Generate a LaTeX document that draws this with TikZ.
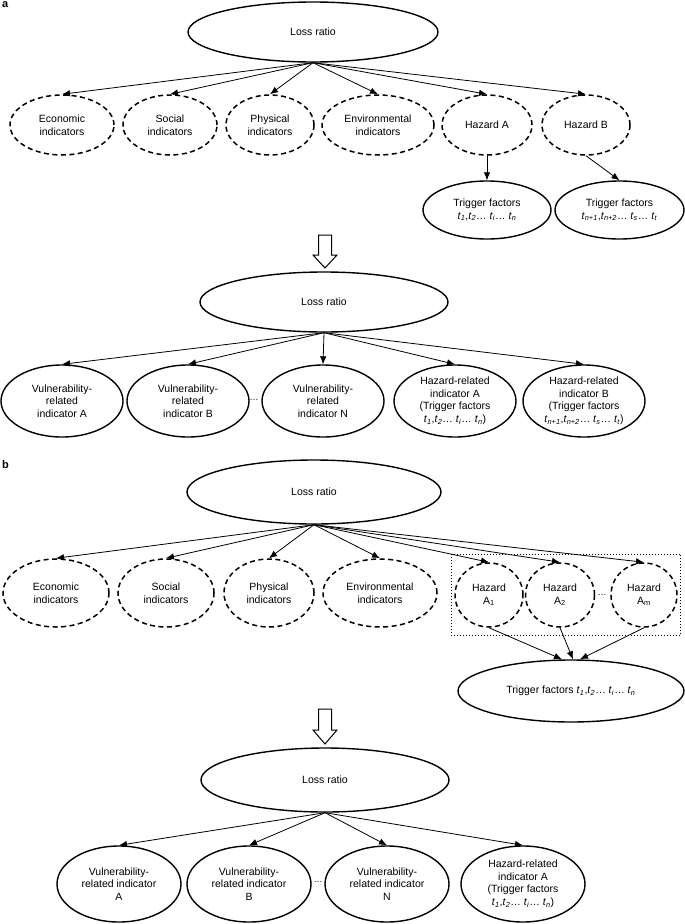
\documentclass[tikz,border=0pt]{standalone}
\usepackage{fontspec}
\setmainfont{Liberation Sans}
\usetikzlibrary{shapes.geometric,arrows.meta,calc,fit}
\newcommand{\tv}[1]{\textit{t}\textsubscript{\textit{#1}}}
\begin{document}
\begin{tikzpicture}[x=1pt,y=-1pt,
  el/.style={ellipse, draw, line width=1.4pt, inner sep=0pt, align=center,
    font=\fontsize{10.5}{12.5}\selectfont},
  del/.style={el, dash pattern=on 5pt off 3.5pt, line width=1.5pt},
  sz/.style 2 args={minimum width=#1pt, minimum height=#2pt},
  arr/.style={-{Latex[length=8pt,width=6.5pt]}, line width=0.8pt},
  lab/.style={font=\fontsize{11}{13}\selectfont\bfseries, anchor=north west, inner sep=0pt},
  dots/.style={font=\fontsize{9}{10}\selectfont, inner sep=0pt},
  hollow/.style={draw, line width=1pt, fill=white}]
\useasboundingbox (0,0) rectangle (685,924);

% ---------------- panel a ----------------
\node[lab] (la) at (2,1.5) {a};
\node[el, sz={250}{60}] (lr1) at (313,32) {Loss ratio};

\node[del, sz={104}{60}] (econ1) at (62,125) {Economic\\indicators};
\node[del, sz={94}{60}] (soc1) at (170,125) {Social\\indicators};
\node[del, sz={88}{60}] (phy1) at (270,125) {Physical\\indicators};
\node[del, sz={112}{60}] (env1) at (378,125) {Environmental\\indicators};
\node[del, sz={90}{60}] (haza) at (487,125) {Hazard A};
\node[del, sz={88}{60}] (hazb) at (586,125) {Hazard B};

\node[el, sz={128}{58}] (tf1) at (487,210) {Trigger factors\\\tv{1},\tv{2}\dots{} \tv{i}\dots{} \tv{n}};
\node[el, sz={129}{58}] (tf2) at (619.5,210) {Trigger factors\\\tv{n+1},\tv{n+2}\dots{} \tv{s}\dots{} \tv{t}};

\foreach \n in {econ1,soc1,phy1,env1,haza,hazb} \draw[arr] (lr1.south) -- (\n.north);
\draw[arr] (haza.south) -- (tf1.north);
\draw[arr] (hazb.south) -- (tf2.north);

% hollow arrow a
\coordinate (ha) at (325,235);
\draw[hollow] ($(ha)+(-6.5,0)$) -- ($(ha)+(6.5,0)$) -- ($(ha)+(6.5,20)$) -- ($(ha)+(12,20)$)
  -- ($(ha)+(0,33)$) -- ($(ha)+(-12,20)$) -- ($(ha)+(-6.5,20)$) -- cycle;

\node[el, sz={248}{60}] (lr2) at (324,302) {Loss ratio};

\node[el, sz={122}{72}] (va) at (62,401) {Vulnerability-\\related\\indicator A};
\node[el, sz={122}{72}] (vb) at (188,401) {Vulnerability-\\related\\indicator B};
\node[dots] (d1) at (254,400) {\dots};
\node[el, sz={122}{72}] (vn) at (323,401) {Vulnerability-\\related\\indicator N};
\node[el, sz={122}{72}] (hra) at (455,401) {Hazard-related\\indicator A\\(Trigger factors\\\tv{1},\tv{2}\dots{} \tv{i}\dots{} \tv{n})};
\node[el, sz={122}{72}] (hrb) at (584,401) {Hazard-related\\indicator B\\(Trigger factors\\\tv{n+1},\tv{n+2}\dots{} \tv{s}\dots{} \tv{t})};

\foreach \n in {va,vb,vn,hra,hrb} \draw[arr] (lr2.south) -- (\n.north);

% ---------------- panel b ----------------
\node[lab] (lb) at (2,460) {b};
\node[el, sz={254}{64}] (lr3) at (314,492) {Loss ratio};

\node[del, sz={106}{68}] (econ2) at (56,593) {Economic\\indicators};
\node[del, sz={96}{68}] (soc2) at (166,593) {Social\\indicators};
\node[del, sz={90}{68}] (phy2) at (269,593) {Physical\\indicators};
\node[del, sz={114}{68}] (env2) at (380,593) {Environmental\\indicators};
\node[del, sz={68}{64}] (a1) at (489,595) {Hazard\\A\textsubscript{1}};
\node[del, sz={69}{64}] (a2) at (560,595) {Hazard\\A\textsubscript{2}};
\node[dots] (d2) at (602,595) {\dots};
\node[del, sz={66}{64}] (am) at (644,595) {Hazard\\A\textsubscript{m}};

\node[draw, dotted, line width=1pt, inner xsep=3pt, inner ysep=8pt, fit=(a1)(am)] (box) {};

\node[el, sz={226}{62}] (tf3) at (571,691) {Trigger factors \tv{1},\tv{2}\dots{} \tv{i}\dots{} \tv{n}};

\foreach \n in {econ2,soc2,phy2,env2,a1,a2,am} \draw[arr] (lr3.south) -- (\n.north);
\draw[arr] (a1.south) -- ([xshift=-9pt]tf3.north);
\draw[arr] (a2.south) -- ([xshift=2pt]tf3.north);
\draw[arr] (am.south) -- ([xshift=9pt]tf3.north);

% hollow arrow b
\coordinate (hb) at (325,709);
\draw[hollow] ($(hb)+(-6.5,0)$) -- ($(hb)+(6.5,0)$) -- ($(hb)+(6.5,21)$) -- ($(hb)+(12,21)$)
  -- ($(hb)+(0,35)$) -- ($(hb)+(-12,21)$) -- ($(hb)+(-6.5,21)$) -- cycle;

\node[el, sz={248}{64}] (lr4) at (325,780) {Loss ratio};

\node[el, sz={124}{76}] (vb1) at (119,884) {Vulnerability-\\related indicator\\A};
\node[el, sz={124}{76}] (vb2) at (249,884) {Vulnerability-\\related indicator\\B};
\node[dots] (d3) at (318,882) {\dots};
\node[el, sz={124}{76}] (vb3) at (387,884) {Vulnerability-\\related indicator\\N};
\node[el, sz={124}{76}] (hb1) at (523,884) {Hazard-related\\indicator A\\(Trigger factors\\\tv{1},\tv{2}\dots{} \tv{i}\dots{} \tv{n})};

\foreach \n in {vb1,vb2,vb3,hb1} \draw[arr] (lr4.south) -- (\n.north);
\end{tikzpicture}
\end{document}
